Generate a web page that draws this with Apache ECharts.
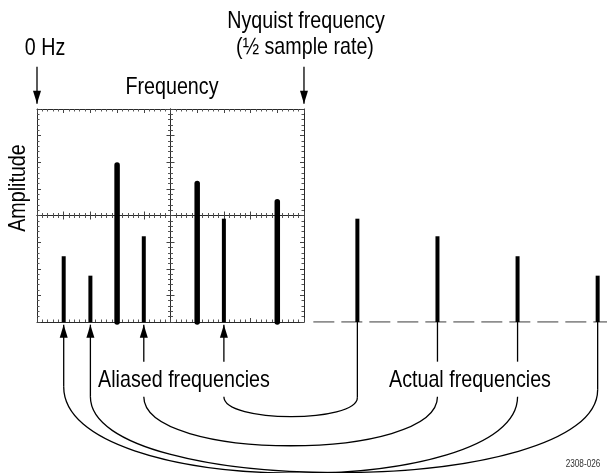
<!DOCTYPE html>
<html>
<head>
<meta charset="utf-8">
<script src="https://cdn.jsdelivr.net/npm/echarts@6/dist/echarts.min.js"></script>
<style>
  html, body { margin: 0; padding: 0; background: #fff; }
  #chart { width: 607px; height: 473px; }
</style>
</head>
<body>
<div id="chart"></div>
<script>
// frequencies are in graticule divisions (0 = 0 Hz, 10 = Nyquist), amplitude in vertical divisions
const inBandFreq = [3, 6, 9];
const inBandAmp = [5.9, 5.2, 4.52];
const aliasFreq = [1, 2, 4, 7];
const aliasAmp = [2.47, 1.74, 3.22, 3.88];
const actualFreq = [12, 15, 18, 21];
const actualAmp = [3.88, 3.22, 2.47, 1.74];

// leader lines under the baseline (end depth, negative amplitude units)
const aliasStemEnd = [-2.43, -2.81, -1.49, -1.49];
const actualStemEnd = [-2.84, -1.49, -1.49, -2.54];

// marker arrows above the graticule: 0 Hz and Nyquist
const markerFreq = [0, 10];
const markerTail = 9.59;
const markerTip = 8.2;

// curves joining actual -> aliased: [fromFreq, fromY, toFreq, toY, lowY]
const curves = [
  [7, -2.81, 12, -2.84, -3.8],
  [4, -2.81, 15, -2.81, -5.26],
  [1, -2.43, 18, -2.81, -6.7],
  [2, -2.81, 21, -2.54, -6.65]
];

const zip = (a, b) => a.map((v, i) => [v, b[i]]);
const ink = '#000';
const gridInk = '#2a2a2a';
const font = (size) => size + 'px "Liberation Sans", Arial, sans-serif';

function scopeX(position, offset, inside) {
  return {
    type: 'value', gridIndex: 0, min: 0, max: 10, interval: 1,
    position: position, offset: offset,
    axisLine: { show: true, onZero: false, lineStyle: { color: gridInk, width: 1 } },
    axisTick: { show: true, inside: inside, length: 4, lineStyle: { color: '#444' } },
    minorTick: { show: true, splitNumber: 5, length: 2.5, lineStyle: { color: '#555' } },
    axisLabel: { show: false },
    splitLine: { show: false }
  };
}
function scopeY(position, offset, inside) {
  return {
    type: 'value', gridIndex: 0, min: 0, max: 8, interval: 1,
    position: position, offset: offset,
    axisLine: { show: true, onZero: false, lineStyle: { color: gridInk, width: 1 } },
    axisTick: { show: true, inside: inside, length: 4, lineStyle: { color: '#444' } },
    minorTick: { show: true, splitNumber: 5, length: 2.5, lineStyle: { color: '#555' } },
    axisLabel: { show: false },
    splitLine: { show: false }
  };
}

function spike(width, cap) {
  return function (params, api) {
    const a = api.coord([api.value(0), 0]);
    const b = api.coord([api.value(0), api.value(1)]);
    return {
      type: 'line',
      shape: { x1: a[0], y1: a[1], x2: b[0], y2: b[1] },
      style: { stroke: ink, lineWidth: width, lineCap: cap }
    };
  };
}

// vertical leader from y0 to y1, optional arrow head at y0
function leader(withHead) {
  return function (params, api) {
    const a = api.coord([api.value(0), api.value(1)]);
    const b = api.coord([api.value(0), api.value(2)]);
    const children = [{
      type: 'line',
      shape: { x1: a[0], y1: a[1], x2: b[0], y2: b[1] },
      style: { stroke: ink, lineWidth: 1.3 }
    }];
    if (withHead) {
      const dir = b[1] > a[1] ? 1 : -1;
      children.push({
        type: 'polygon',
        shape: { points: [[a[0], a[1]], [a[0] - 4, a[1] + dir * 13], [a[0] + 4, a[1] + dir * 13]] },
        style: { fill: ink }
      });
    }
    return { type: 'group', children: children };
  };
}

const chart = echarts.init(document.getElementById('chart'));
chart.setOption({
  backgroundColor: '#fff',
  animation: false,
  grid: [
    { left: 37, top: 109, width: 267, height: 213 },
    { left: 37, top: 109, width: 570, height: 213 }
  ],
  xAxis: [
    scopeX('bottom', 0, true),
    scopeX('top', 0, true),
    scopeX('bottom', -106.5, true),
    scopeX('bottom', -106.5, false),
    { type: 'value', gridIndex: 1, min: 0, max: 21.35, show: false }
  ],
  yAxis: [
    scopeY('left', 0, true),
    scopeY('right', 0, true),
    scopeY('left', -133.5, true),
    scopeY('left', -133.5, false),
    { type: 'value', gridIndex: 1, min: 0, max: 8, show: false }
  ],
  series: [
    {
      type: 'line', xAxisIndex: 4, yAxisIndex: 4, symbol: 'none', z: 1,
      data: [[10.35, 0], [21.35, 0]],
      lineStyle: { color: '#6a6a6a', width: 1.5, type: [21, 7] }
    },
    {
      type: 'custom', name: 'in-band', xAxisIndex: 4, yAxisIndex: 4, clip: false, z: 5,
      data: zip(inBandFreq, inBandAmp), renderItem: spike(5.5, 'round')
    },
    {
      type: 'custom', name: 'aliased', xAxisIndex: 4, yAxisIndex: 4, clip: false, z: 5,
      data: zip(aliasFreq, aliasAmp), renderItem: spike(4, 'butt')
    },
    {
      type: 'custom', name: 'actual', xAxisIndex: 4, yAxisIndex: 4, clip: false, z: 5,
      data: zip(actualFreq, actualAmp), renderItem: spike(4, 'butt')
    },
    {
      type: 'custom', xAxisIndex: 4, yAxisIndex: 4, clip: false, z: 4,
      data: aliasFreq.map((f, i) => [f, -0.1, aliasStemEnd[i]]), renderItem: leader(true)
    },
    {
      type: 'custom', xAxisIndex: 4, yAxisIndex: 4, clip: false, z: 4,
      data: actualFreq.map((f, i) => [f, 0, actualStemEnd[i]]), renderItem: leader(false)
    },
    {
      type: 'custom', xAxisIndex: 4, yAxisIndex: 4, clip: false, z: 4,
      data: markerFreq.map(f => [f, markerTip, markerTail]), renderItem: leader(true)
    },
    {
      type: 'custom', xAxisIndex: 4, yAxisIndex: 4, clip: false, z: 4,
      data: curves,
      renderItem: function (params, api) {
        const p0 = api.coord([api.value(0), api.value(1)]);
        const p3 = api.coord([api.value(2), api.value(3)]);
        const c1 = api.coord([api.value(0), api.value(4)]);
        const c2 = api.coord([api.value(2), api.value(4)]);
        return {
          type: 'bezierCurve',
          shape: { x1: p0[0], y1: p0[1], x2: p3[0], y2: p3[1], cpx1: c1[0], cpy1: c1[1], cpx2: c2[0], cpy2: c2[1] },
          style: { stroke: ink, lineWidth: 1.3, fill: 'none' }
        };
      }
    }
  ],
  graphic: [
    { type: 'text', x: 306, y: 21.5, scaleX: 0.82, style: { text: 'Nyquist frequency', x: 0, y: 0, align: 'center', verticalAlign: 'middle', font: font(24), fill: ink } },
    { type: 'text', x: 305, y: 47, scaleX: 0.82, style: { text: '(½ sample rate)', x: 0, y: 0, align: 'center', verticalAlign: 'middle', font: font(24), fill: ink } },
    { type: 'text', x: 45, y: 48.5, scaleX: 0.82, style: { text: '0 Hz', x: 0, y: 0, align: 'center', verticalAlign: 'middle', font: font(24), fill: ink } },
    { type: 'text', x: 172, y: 87.5, scaleX: 0.82, style: { text: 'Frequency', x: 0, y: 0, align: 'center', verticalAlign: 'middle', font: font(24), fill: ink } },
    { type: 'text', x: 18.5, y: 188, rotation: Math.PI / 2, scaleX: 0.82, style: { text: 'Amplitude', x: 0, y: 0, align: 'center', verticalAlign: 'middle', font: font(24), fill: ink } },
    { type: 'text', x: 184, y: 380.5, scaleX: 0.82, style: { text: 'Aliased frequencies', x: 0, y: 0, align: 'center', verticalAlign: 'middle', font: font(24), fill: ink } },
    { type: 'text', x: 470, y: 380.5, scaleX: 0.82, style: { text: 'Actual frequencies', x: 0, y: 0, align: 'center', verticalAlign: 'middle', font: font(24), fill: ink } },
    { type: 'text', x: 583, y: 464, scaleX: 0.82, style: { text: '2308-026', x: 0, y: 0, align: 'center', verticalAlign: 'middle', font: font(10), fill: '#333' } }
  ]
});
</script>
</body>
</html>
